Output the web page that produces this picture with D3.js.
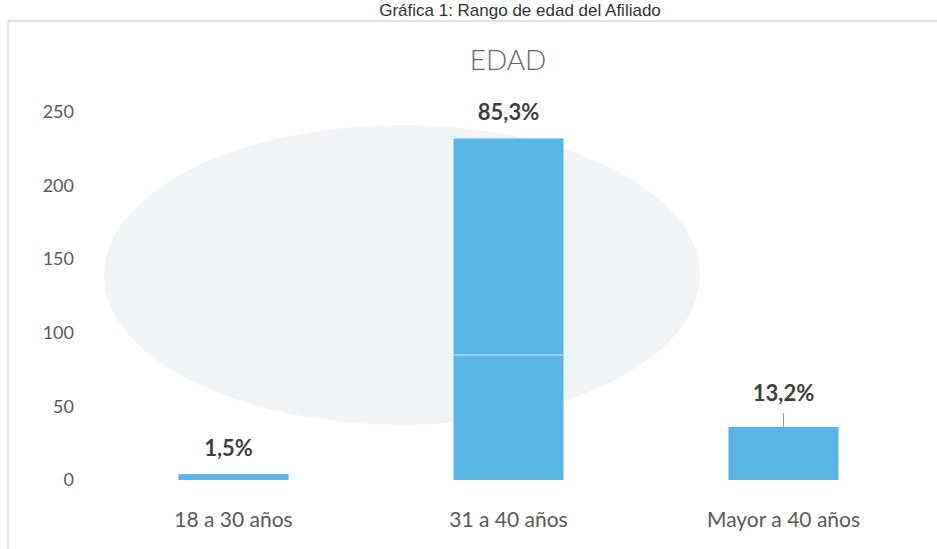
<!DOCTYPE html>
<html>
<head>
<meta charset="utf-8">
<script src="https://cdn.jsdelivr.net/npm/d3@7"></script>
<style>
  body { margin: 0; background: #fff; }
  svg { display: block; }
</style>
</head>
<body>
<div id="content"></div>
<script>
// chart values
let categories = ['18 a 30 años', '31 a 40 años', 'Mayor a 40 años'];
let values = [4, 232, 36];
let percentLabels = ['1,5%', '85,3%', '13,2%'];
let yTicks = [0, 50, 100, 150, 200, 250];

let width = 937, height = 549;
let margin = { top: 112, right: 16, bottom: 68, left: 96 };

let svg = d3.select('#content').append('svg')
    .attr('width', width)
    .attr('height', height);

// scanned page: faint frame and ghost of the back side
svg.append('line')
    .attr('x1', 8).attr('x2', width).attr('y1', 21).attr('y2', 21)
    .attr('stroke', '#d8d8d8').attr('stroke-width', 1.5);
svg.append('line')
    .attr('x1', 8).attr('x2', 8).attr('y1', 21).attr('y2', height)
    .attr('stroke', '#e2e2e2').attr('stroke-width', 1.5);

svg.append('ellipse')
    .attr('cx', 402).attr('cy', 275).attr('rx', 298).attr('ry', 150)
    .attr('fill', '#f1f4f6');

// caption at top of the scan
svg.append('text')
    .attr('x', 520).attr('y', 16)
    .attr('text-anchor', 'middle')
    .attr('font-family', 'Liberation Sans, Arial, sans-serif')
    .attr('font-size', 17)
    .attr('fill', '#333')
    .text('Gráfica 1: Rango de edad del Afiliado');

// title
svg.append('text')
    .attr('x', 508).attr('y', 70)
    .attr('text-anchor', 'middle')
    .attr('font-family', 'Lato, sans-serif')
    .attr('font-weight', 300)
    .attr('font-size', 28)
    .attr('fill', '#6a6a6a')
    .text('EDAD');

let x = d3.scaleBand()
    .domain(categories)
    .range([margin.left, width - margin.right])
    .paddingInner(0.6)
    .paddingOuter(0.3);

let y = d3.scaleLinear()
    .domain([0, 250])
    .range([height - margin.bottom - 1, margin.top]);

// y axis labels
let yAxis = svg.append('g')
    .attr('transform', 'translate(' + 74 + ',0)')
    .call(d3.axisLeft(y).tickValues(yTicks).tickSize(0).tickPadding(0));
yAxis.select('.domain').remove();
yAxis.selectAll('text')
    .attr('font-family', 'Lato, sans-serif')
    .attr('font-size', 18)
    .attr('fill', '#5a5a5a');

// bars
svg.append('g')
    .selectAll('rect')
    .data(values)
    .join('rect')
    .attr('x', function(d, i) { return x(categories[i]); })
    .attr('width', x.bandwidth())
    .attr('y', function(d) { return y(d); })
    .attr('height', function(d) { return y(0) - y(d); })
    .attr('fill', '#5ab4e6');

// scan streak across middle bar
svg.append('line')
    .attr('x1', x(categories[1])).attr('x2', x(categories[1]) + x.bandwidth())
    .attr('y1', 355).attr('y2', 355)
    .attr('stroke', '#a9d6f0').attr('stroke-width', 1.5);

// leader line on last label
svg.append('line')
    .attr('x1', x(categories[2]) + x.bandwidth() / 2)
    .attr('x2', x(categories[2]) + x.bandwidth() / 2)
    .attr('y1', y(values[2]) - 14).attr('y2', y(values[2]))
    .attr('stroke', '#999').attr('stroke-width', 1);

// data labels
let labelOffset = [18, 18, 26];
svg.append('g')
    .selectAll('text')
    .data(values)
    .join('text')
    .attr('x', function(d, i) { return x(categories[i]) + x.bandwidth() / 2 - (i === 0 ? 5 : 0); })
    .attr('y', function(d, i) { return y(d) - labelOffset[i]; })
    .attr('text-anchor', 'middle')
    .attr('font-family', 'Lato, sans-serif')
    .attr('font-weight', 'bold')
    .attr('font-size', 22)
    .attr('fill', '#3f3f3f')
    .text(function(d, i) { return percentLabels[i]; });

// category labels
svg.append('g')
    .selectAll('text')
    .data(categories)
    .join('text')
    .attr('x', function(d) { return x(d) + x.bandwidth() / 2; })
    .attr('y', 527)
    .attr('text-anchor', 'middle')
    .attr('font-family', 'Lato, sans-serif')
    .attr('font-size', 21)
    .attr('fill', '#5a5a5a')
    .text(function(d) { return d; });
</script>
</body>
</html>
